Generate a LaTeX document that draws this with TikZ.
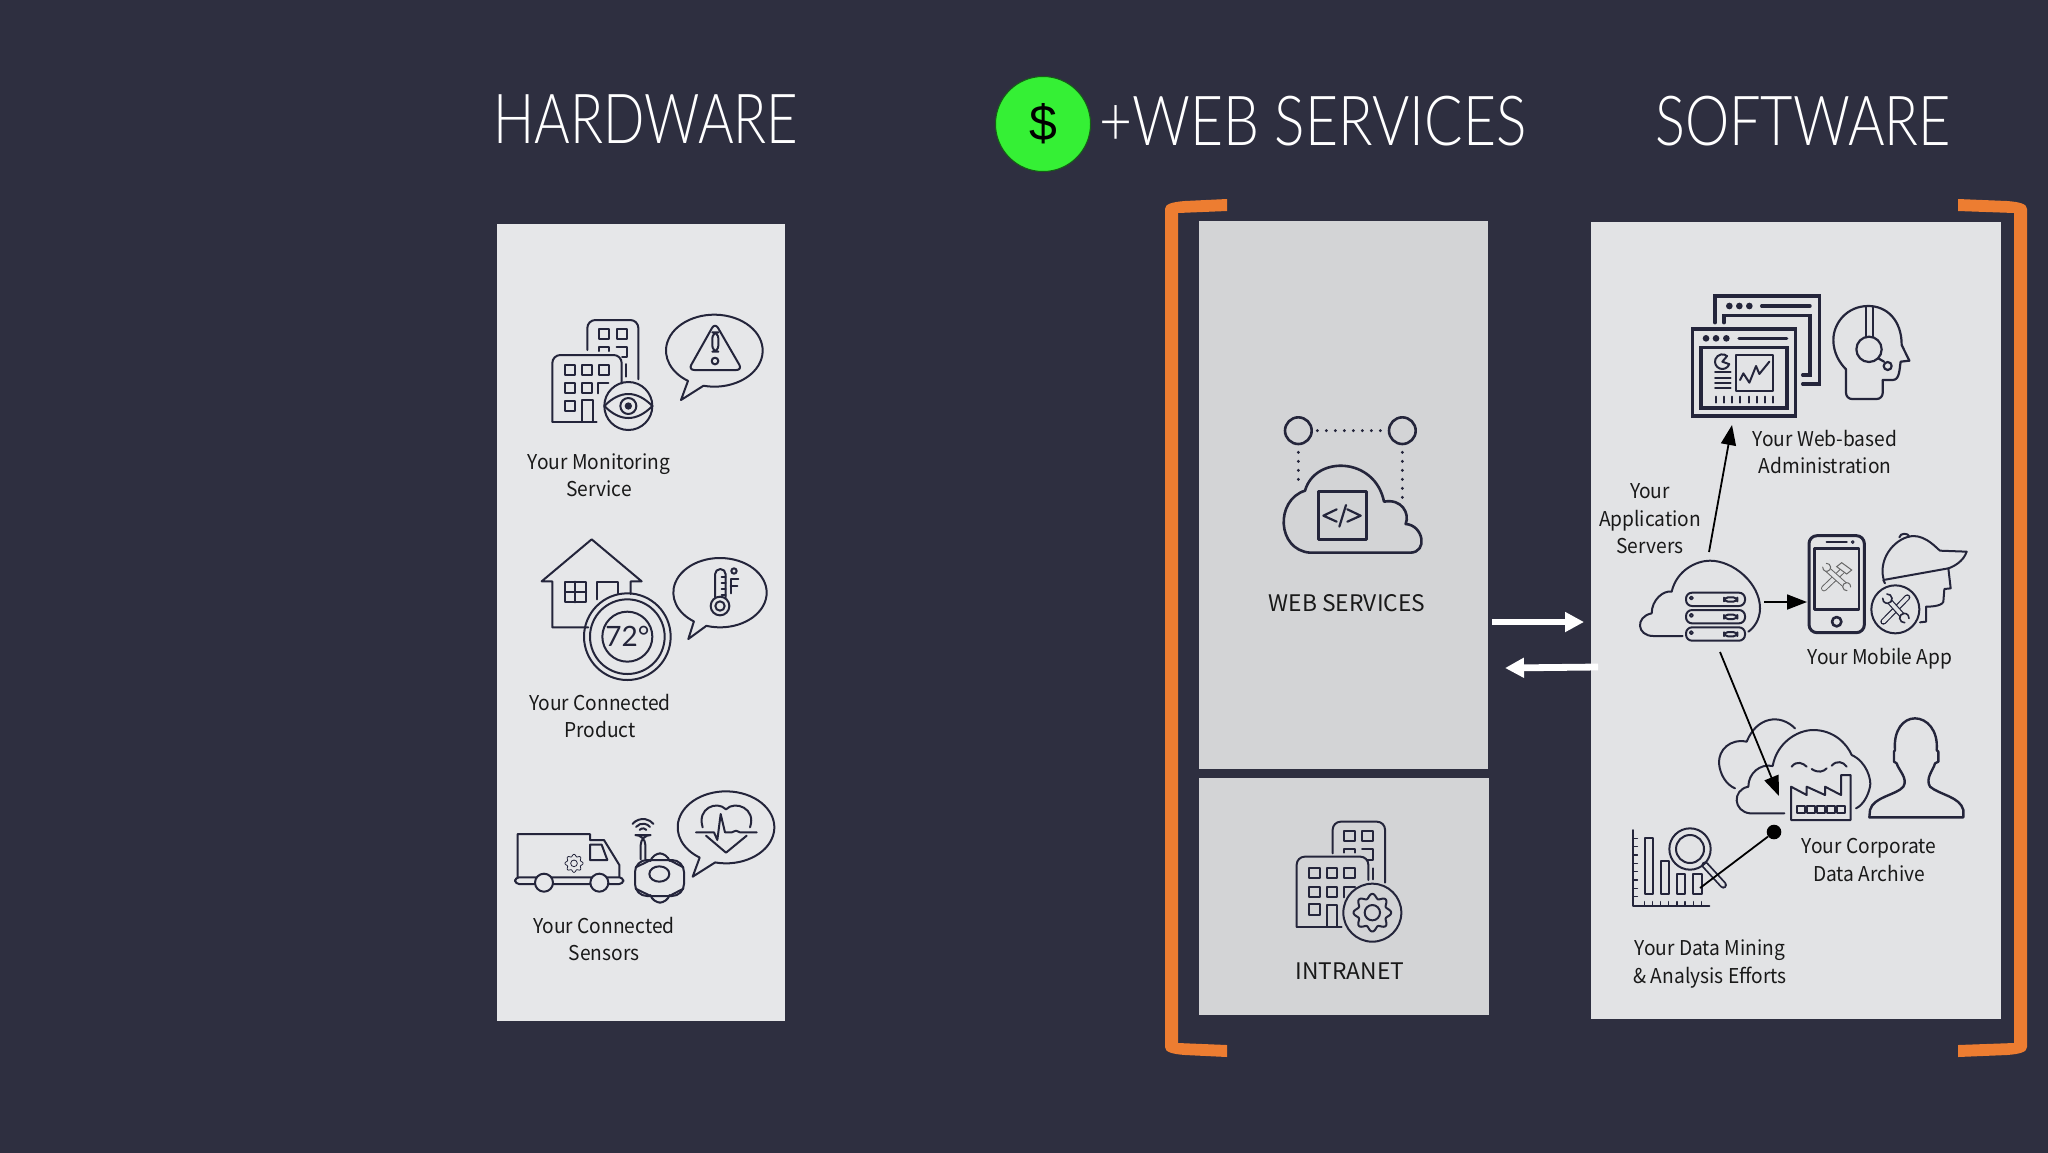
\documentclass[tikz,border=0pt]{standalone}
\usepackage{fontspec}
\setmainfont{Noto Sans CJK SC}
\newfontfamily\thinfont{Lato Light}
\newfontfamily\midfont{Lato}
\newfontfamily\dollarfont{Liberation Sans}
\usetikzlibrary{arrows.meta,calc}
\definecolor{bgc}{HTML}{2E2F40}
\definecolor{ink}{HTML}{24253B}
\definecolor{pL}{HTML}{E6E7E9}
\definecolor{pW}{HTML}{D3D4D6}
\definecolor{pS}{HTML}{E2E3E5}
\definecolor{orng}{HTML}{ED7D31}
\definecolor{grn}{HTML}{35F035}
\tikzset{
 ic/.style={draw=ink,line width=1pt,line join=round,line cap=round},
 lbl/.style={text=black!90,align=center,inner sep=0pt,transform shape,xscale=.94,font=\fontsize{10.2}{13.7}\selectfont},
 capt/.style={text=black!90,align=center,inner sep=0pt,font=\fontsize{11.4}{14}\selectfont},
 title/.style={text=white,inner sep=0pt,transform shape,font=\thinfont\fontsize{34.5}{36}\selectfont},
 wa/.style={draw=white,line width=3.4pt,-{Triangle[length=9.5pt,width=9.5pt]}},
 conn/.style={draw=black,line width=.9pt,-{Triangle[length=10pt,width=7.5pt]}},
 plain/.style={draw=black,line width=.9pt},
 dots/.style={draw=ink,line width=1.6pt,line cap=round,dash pattern=on 0pt off 4.5pt},
 zm/.style={shift={(#1)},scale=1/3},
}
\newcommand{\bubble}[8]{\draw[ic] (#1,#2) ++(#5:#3 and #4) arc[start angle=#5,end angle=#6,x radius=#3,y radius=#4] -- (#7,#8) -- cycle;}
\newcommand{\gearp}[4]{\draw[#4] plot[domain=0:360,samples=121,smooth] ({#1+#3*(1+.13*cos(8*\x))*cos(\x)},{#2+#3*(1+.13*cos(8*\x))*sin(\x)}) -- cycle;}
% open wrench jaw: centre x, y, opening direction, radius, colour, weight
\newcommand{\jaw}[6]{\fill[pS] (#1,#2) circle (#4); \draw[#5,line width=#6,line cap=round] (#1,#2) ++(#3+40:#4) arc[start angle=#3+40,end angle=#3+320,radius=#4];}
\begin{document}
\begin{tikzpicture}[x=0.5pt,y=-0.5pt]
\useasboundingbox (0,0) rectangle (2048,1152);
\fill[bgc] (-6,-6) rectangle (2054,1158);
% panels
\fill[pL] (497,224) rectangle (785,1021);
\fill[pW] (1199,221) rectangle (1488,769);
\fill[pW] (1199,778) rectangle (1489,1015);
\fill[pS] (1591,222) rectangle (2001,1019);
% brackets
\fill[orng] (1227,199)--(1227,211)--(1178,213)--(1178,1043)--(1227,1045)--(1227,1057)--(1185,1055) .. controls (1172,1054) and (1165,1052) .. (1165,1047)--(1165,209) .. controls (1165,204) and (1172,202) .. (1185,201)--cycle;
\fill[orng] (1958,199)--(1958,211)--(2014,213)--(2014,1043)--(1958,1045)--(1958,1057)--(2007,1055) .. controls (2020,1054) and (2027,1052) .. (2027,1047)--(2027,209) .. controls (2027,204) and (2020,202) .. (2007,201)--cycle;
% titles
\node[title,xscale=.79] (hw) at (646,119) {HARDWARE};
\node[title,xscale=.825] (ws) at (1313,121) {+WEB SERVICES};
\node[title,xscale=.81] (sw) at (1803,121) {SOFTWARE};
\node[circle,fill=grn,draw=black!60!grn,line width=.5pt,minimum size=47.5pt,inner sep=0pt,font=\dollarfont\fontsize{25}{25}\selectfont] (dollar) at (1043,124) {\$};

% ===== monitoring
\begin{scope}[zm={490,220}]
\draw[ic,rounded corners=4pt] (292,390)--(292,300)--(445,300)--(445,478);
\foreach \a in {328,380}{\draw[ic] (\a,328) rectangle +(30,30);}
\draw[ic] (328,393)--(328,380)--(358,380)--(358,393);
\draw[ic] (380,380)--(410,380)--(410,412)--(396,412);
\draw[ic] (408,432)--(408,470);
\draw[ic,rounded corners=4pt] (187,605)--(187,405)--(395,405)--(395,490);
\draw[ic] (187,605)--(320,605);
\draw[ic] (275,605)--(275,540)--(308,540)--(308,605);
\foreach \a in {224,276,328}{\draw[ic] (\a,436) rectangle +(30,30);}
\foreach \a in {224,276}{\draw[ic] (\a,490) rectangle +(30,30);}
\draw[ic] (325,520)--(325,490)--(355,490);
\draw[ic] (224,542) rectangle +(30,30);
\draw[ic] (415,558) circle (72);
\draw[ic] (343,558) .. controls (390,510) and (440,510) .. (487,558) .. controls (440,606) and (390,606) .. (343,558);
\draw[ic] (415,558) circle (24);
\fill[ink] (415,558) circle (11);
\bubble{673}{392}{145}{108}{103}{-237}{573}{540}
\draw[ic,rounded corners=3pt] (675,308)--(757,450)--(595,450)--cycle;
\draw[ic,rounded corners=3pt] (667,337) rectangle (685,395);
\draw[ic] (675,423) circle (10);
\end{scope}
\node[lbl] (mon) at (599,475) {Your Monitoring\\Service};

% ===== product
\begin{scope}[zm={490,520}]
\draw[ic] (295,322)--(187,322)--(187,184)--(155,184)--(305,58)--(455,184)--(422,184)--(422,222);
\draw[ic] (225,185) rectangle (288,247);
\draw[ic] (256,185)--(256,247) (225,216)--(288,216);
\draw[ic] (322,238)--(322,185)--(385,185)--(385,220);
\draw[ic] (412,350) circle (130);
\draw[ic] (412,350) circle (112);
\draw[ic] (412,350) circle (75);
\node[inner sep=0pt,text=ink,font=\midfont\fontsize{14}{14}\selectfont] (temp) at (412,350) {72°};
\bubble{690}{218}{140}{104}{107}{-236}{595}{357}
\draw[ic] (690,258) circle (28);
\draw[ic] (690,258) circle (14);
\draw[ic] (675,232)--(675,163) arc[start angle=180,end angle=360,radius=16]--(707,232);
\foreach \a in {172,190,208,226}{\draw[ic] (695,\a)--(707,\a);}
\draw[ic] (722,220)--(722,178)--(745,178) (722,198)--(742,198);
\draw[ic] (732,153) circle (8);
\end{scope}
\node[lbl] (prod) at (600,716) {Your Connected\\Product};

% ===== sensors
\begin{scope}[zm={490,770}]
\draw[ic] (83,322)--(83,192)--(300,192)--(300,210)--(342,210)--(388,285)--(388,322);
\draw[ic,rounded corners=2pt,fill=pL] (75,322) rectangle (400,342);
\draw[ic,fill=pL] (162,338) circle (27);
\draw[ic,fill=pL] (328,338) circle (27);
\draw[ic] (300,224)--(335,224)--(352,270)--(300,270)--cycle;
\gearp{252}{280}{24}{draw=ink,line width=.4pt}
\draw[draw=ink,line width=.4pt] (252,280) circle (10);
\draw[ic,rounded corners=5pt] (452,268)--(452,195)--(466,195)--(466,268);
\foreach \r in {13,27,41}{\draw[ic] (459,188) ++(-140:\r) arc[start angle=-140,end angle=-40,radius=\r];}
\draw[ic,rounded corners=6pt] (435,270) rectangle (582,378);
\draw[ic,rounded corners=4pt] (482,270)--(488,250)--(532,250)--(538,270);
\draw[ic,rounded corners=4pt] (482,378)--(488,398)--(532,398)--(538,378);
\draw[ic] (437,292)--(482,270) (580,292)--(538,270) (437,356)--(482,378) (580,356)--(538,378);
\draw[ic] (508,312) ellipse (30 and 23);
\bubble{708}{172}{145}{108}{103}{-237}{608}{320}
\draw[ic] (638,172) .. controls (620,115) and (680,90) .. (708,118) .. controls (735,90) and (800,115) .. (780,172);
\draw[ic] (648,197)--(708,248)--(770,197);
\draw[ic] (618,187)--(672,187)--(682,210)--(692,132)--(705,187)--(725,187)--(738,182)--(750,187)--(800,187);
\end{scope}
\node[lbl] (sens) at (604,939) {Your Connected\\Sensors};

% ===== web services
\begin{scope}[zm={1240,400}]
\draw[ic,line width=1.3pt] (175,92) circle (40);
\draw[ic,line width=1.3pt] (487,92) circle (40);
\draw[dots] (232,92)--(430,92);
\draw[dots] (175,157)--(175,240);
\draw[dots] (487,157)--(487,295);
\draw[ic,line width=1.3pt] (210,458) .. controls (110,450) and (105,300) .. (195,272) .. controls (225,165) and (405,170) .. (432,305) .. controls (485,295) and (510,340) .. (497,372) .. controls (550,375) and (565,458) .. (510,458) -- cycle;
\draw[ic,line width=1.2pt] (235,275) rectangle (380,418);
\draw[ic,line width=1.1pt] (290,328)--(250,347)--(290,365) (322,328)--(362,347)--(322,365) (318,315)--(298,380);
\end{scope}
\node[capt] (wsl) at (1347,603) {WEB SERVICES};

% ===== intranet
\begin{scope}[zm={1260,800}]
\draw[ic,rounded corners=4pt] (218,160)--(218,65)--(375,65)--(375,248);
\foreach \a in {253,306}{\draw[ic] (\a,92) rectangle +(32,31);}
\draw[ic] (253,158)--(253,147)--(285,147)--(285,158);
\draw[ic] (306,147)--(338,147)--(338,180)--(322,180);
\draw[ic] (338,205)--(338,238);
\draw[ic,rounded corners=4pt] (110,380)--(110,170)--(325,170)--(325,240);
\draw[ic] (110,380)--(245,380);
\draw[ic] (200,380)--(200,315)--(232,315)--(232,380);
\foreach \a in {148,200,252}{\draw[ic] (\a,205) rectangle +(32,30);}
\foreach \a in {148,200}{\draw[ic] (\a,260) rectangle +(32,32);}
\draw[ic] (252,292)--(252,260)--(285,260);
\draw[ic] (148,313) rectangle +(32,32);
\draw[ic] (337,338) circle (87);
\gearp{337}{338}{50}{ic}
\draw[ic] (337,338) circle (23);
\end{scope}
\node[capt] (intl) at (1350,971) {INTRANET};

% ===== admin
\begin{scope}[zm={1660,280}]
\tikzset{thk/.style={draw=ink,line width=1.7pt,line join=miter,line cap=round}}
\draw[thk] (165,128)--(165,48)--(478,48)--(478,312)--(428,312);
\foreach \a in {208,238,268}{\fill[ink] (\a,78) circle (10);}
\draw[thk] (305,78)--(450,78);
\draw[thk] (192,128)--(192,106)--(450,106)--(450,285)--(428,285);
\draw[thk] (97,147) rectangle (407,408);
\foreach \a in {138,168,199}{\fill[ink] (\a,175) circle (10);}
\draw[thk] (237,175)--(380,175);
\draw[thk] (123,203) rectangle (381,384);
\draw[ic] (229,225) rectangle (338,333);
\draw[ic] (240,300)--(250,280)--(268,308)--(288,258)--(298,282)--(328,245);
\draw[ic] (187,245) ++(20:22) arc[start angle=20,end angle=310,radius=22]--(187,245)--cycle;
\foreach \a in {277,293,309,325}{\draw[ic] (165,\a)--(212,\a);}
\foreach \a in {167,191,216,241,266,291,315,340}{\draw[ic] (\a,350)--(\a,368);}
\draw[ic,line width=1.1pt,rounded corners=3pt] (558,268)--(558,357)--(668,357)--(668,300);
\draw[ic,line width=1.1pt] (668,300)--(698,300) .. controls (720,300) and (718,265) .. (722,245)--(748,242)--(725,195) .. controls (725,120) and (680,78) .. (625,78) .. controls (560,78) and (520,130) .. (520,180) .. controls (520,220) and (540,250) .. (558,268);
\draw[ic,line width=1.1pt] (618,80)--(618,172) (640,80)--(640,172);
\draw[ic,line width=1.1pt] (627,208) circle (38);
\draw[ic,line width=1.1pt] (655,235)--(672,245);
\draw[ic,line width=1.1pt] (683,258) circle (12);
\end{scope}
\node[lbl] (adm) at (1825,452) {Your Web-based\\Administration};

% ===== servers and app
\begin{scope}[zm={1620,520}]
\draw[ic] (188,348)--(100,348) .. controls (50,348) and (45,290) .. (95,280) .. controls (95,240) and (130,210) .. (155,215) .. controls (170,150) and (230,122) .. (270,122) .. controls (340,122) and (420,190) .. (420,265) .. controls (420,300) and (400,325) .. (385,335);
\foreach \a in {218,270,322}{
 \draw[ic,rounded corners=3pt] (198,\a) rectangle +(177,40);
 \draw[ic,line width=.8pt] (214,\a+16) circle (5);
 \draw[ic,rounded corners=2pt] (312,\a+14) rectangle +(40,13);
}
% phone
\draw[ic,line width=1.5pt,rounded corners=4pt] (567,47) rectangle (733,338);
\draw[ic,line width=1.3pt] (583,85) rectangle (717,268);
\draw[ic,line width=1.2pt] (620,66)--(680,66);
\draw[ic,line width=.6pt] (698,66) circle (4);
\draw[ic,line width=1.3pt] (650,305) circle (14);
\draw[black!60,line width=3pt,line cap=round] (612,205)--(675,145);
\draw[pS,line width=2pt,line cap=round] (612,205)--(675,145);
\draw[black!60,line width=3pt,line cap=round] (622,148)--(678,198);
\draw[pS,line width=2pt,line cap=round] (622,148)--(678,198);
\jaw{620}{142}{-135}{12}{black!60}{.5pt}
\jaw{680}{200}{45}{12}{black!60}{.5pt}
\draw[black!60,line width=.5pt,fill=pS] (665,128)--(695,150)--(680,162)--(650,140)--cycle;
% worker
\draw[ic] (790,175) .. controls (775,110) and (830,50) .. (880,48) .. controls (920,48) and (950,85) .. (960,92)--(1040,95) .. controls (1030,125) and (1000,140) .. (985,145)--(790,180)--(795,190);
\draw[ic] (838,52) .. controls (840,38) and (865,38) .. (868,50);
\draw[ic] (985,145)--(992,205)--(973,207)--(970,245) .. controls (965,260) and (925,260) .. (918,260)--(918,305)--(900,307);
\draw[ic] (826,268) circle (72);
\draw[ink,line width=3pt,line cap=round] (790,305)--(862,232);
\draw[pS,line width=1.8pt,line cap=round] (790,305)--(862,232);
\draw[ink,line width=3pt,line cap=round] (805,240)--(850,290);
\draw[pS,line width=1.8pt,line cap=round] (805,240)--(850,290);
\jaw{802}{236}{-135}{14}{ink}{.8pt}
\jaw{853}{294}{45}{14}{ink}{.8pt}
\end{scope}
\node[lbl] (app) at (1880,659) {Your Mobile App};
\node[lbl] (srv) at (1650,519) {Your\\Application\\Servers};

% ===== archive
\begin{scope}[zm={1610,700}]
\draw[ic] (555,85) .. controls (510,40) and (440,50) .. (410,125) .. controls (360,115) and (325,150) .. (327,190) .. controls (330,225) and (350,255) .. (375,265);
\draw[ic] (523,340)--(420,340) .. controls (370,335) and (365,270) .. (415,260) .. controls (415,220) and (450,190) .. (488,198) .. controls (500,130) and (560,90) .. (610,90) .. controls (670,90) and (710,130) .. (725,165) .. controls (770,185) and (785,240) .. (780,260) .. controls (775,285) and (760,315) .. (738,325);
\draw[ic] (545,200) .. controls (560,180) and (580,190) .. (590,200);
\draw[ic] (605,207) .. controls (625,220) and (640,215) .. (650,205);
\draw[ic] (665,197) .. controls (680,180) and (700,185) .. (710,200);
\draw[ic] (543,360)--(543,260)--(590,285)--(590,260)--(645,285)--(645,260)--(693,285)--(693,225)--(722,225)--(722,360)--cycle;
\foreach \a in {562,592,622,652,682}{\draw[ic] (\a,318) rectangle +(22,22);}
\draw[ic,line width=1.2pt] (778,352)--(1060,352)--(1060,330) .. controls (1050,290) and (990,285) .. (960,260) .. controls (945,235) and (970,210) .. (975,190)--(985,185)--(985,155)--(980,150) .. controls (985,90) and (950,55) .. (915,55) .. controls (880,55) and (850,90) .. (855,150)--(852,155)--(852,185)--(860,190) .. controls (865,210) and (895,235) .. (880,260) .. controls (860,285) and (790,290) .. (780,330)--cycle;
% chart
\draw[ic] (70,390)--(70,617)--(298,617);
\foreach \a in {415,440,465,490,515,540,565,590}{\draw[ic,line width=.8pt] (70,\a)--(82,\a);}
\foreach \a in {103,127,152,176,201,225,250,274}{\draw[ic,line width=.8pt] (\a,605)--(\a,617);}
\draw[ic] (105,413) rectangle (130,582);
\draw[ic] (152,483) rectangle (178,582);
\draw[ic] (200,522) rectangle (226,582);
\draw[ic] (250,522) rectangle (276,582);
\draw[ink,line width=3.6pt,line cap=round] (285,495)--(340,555);
\draw[pS,line width=1.8pt,line cap=round] (285,495)--(340,555);
\draw[ic] (240,447) circle (62);
\draw[ic] (240,447) circle (42);
\end{scope}
\node[lbl] (arc) at (1869,860) {Your Corporate\\Data Archive};
\node[lbl] (dm) at (1710,964) {Your Data Mining\\\& Analysis Efforts};

% ===== connectors
\coordinate (srvTop) at (1709,552);
\coordinate (admTip) at (1732,425);
\coordinate (srvRight) at (1764,602);
\coordinate (phoneL) at (1807,602);
\coordinate (srvBot) at (1720,652);
\coordinate (facTip) at (1779,796);
\coordinate (chartEnd) at (1700,888);
\coordinate (wsOut) at (1492,622);
\coordinate (swIn) at (1584,622);
\coordinate (swOut) at (1598,667);
\coordinate (wsIn) at (1505,668);
\node[circle,fill=black,minimum size=7.3pt,inner sep=0pt] (dot) at (1774,832) {};
\draw[conn] (srvTop)--(admTip);
\draw[conn] (srvRight)--(phoneL);
\draw[conn] (srvBot)--(facTip);
\draw[plain] (dot)--(chartEnd);
\draw[wa] (wsOut)--(swIn);
\draw[wa] (swOut)--(wsIn);
\end{tikzpicture}
\end{document}
